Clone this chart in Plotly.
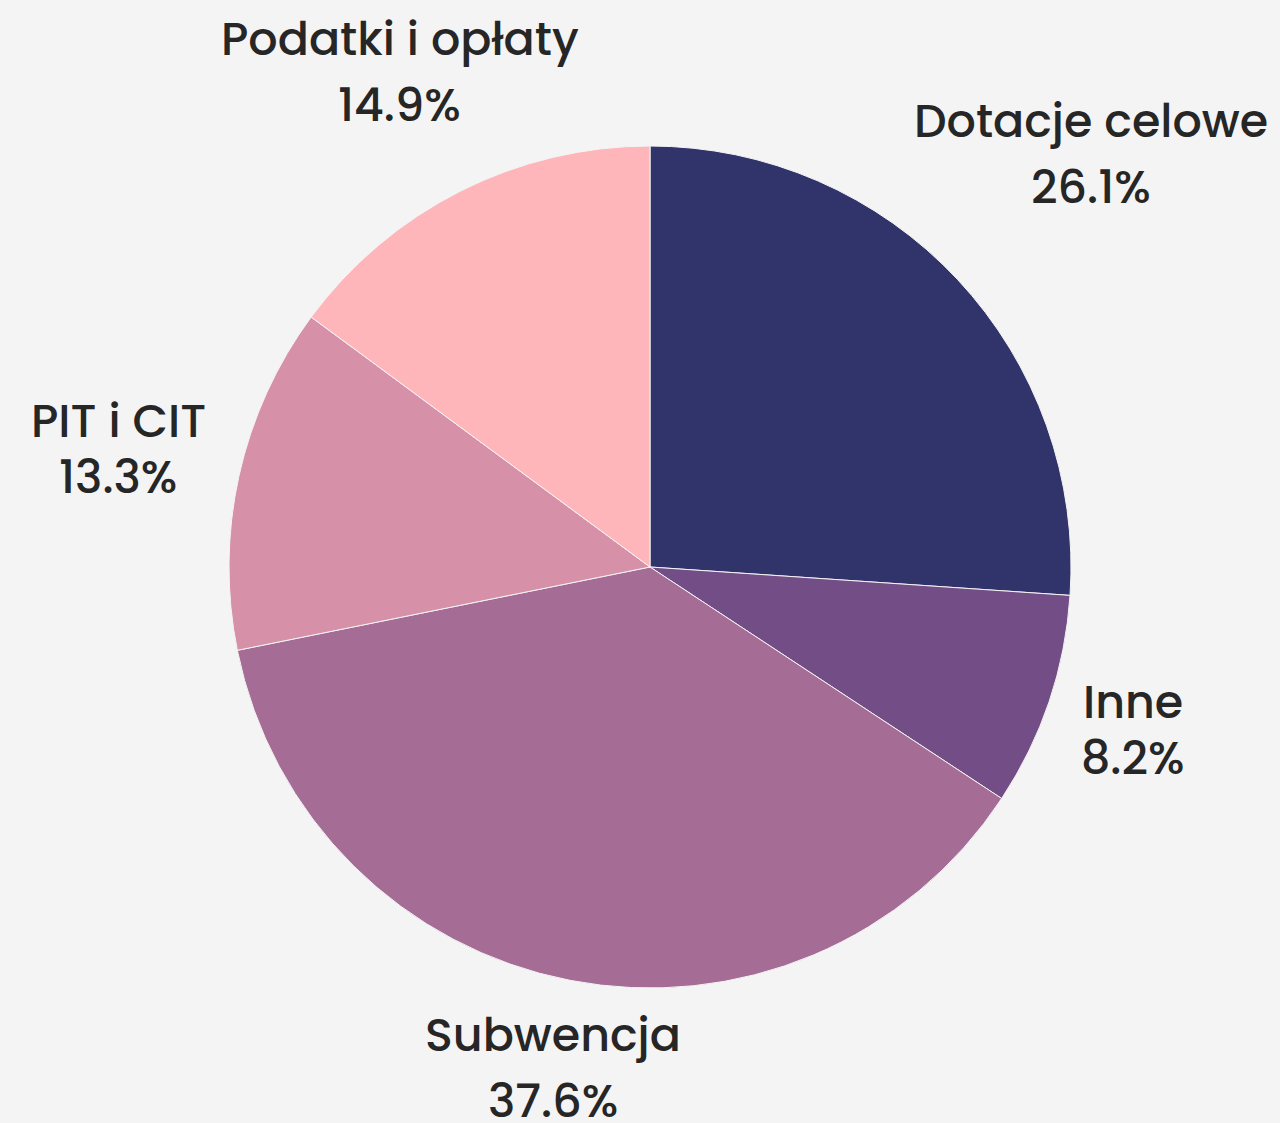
import math
import plotly.graph_objects as go

labels = ["Dotacje celowe", "Inne", "Subwencja", "PIT i CIT", "Podatki i opłaty"]
values = [26.1, 8.2, 37.6, 13.3, 14.9]
colors = ["#30346b", "#734d86", "#a56c96", "#d690a8", "#ffb6bb"]

# layout: radial distance of each label block (in pie radii)
label_dist = [1.435, 1.211, 1.211, 1.294, 1.318]

W, H = 1280, 1123
ML, MR, MT, MB = 200, 180, 146, 135
pw, ph = W - ML - MR, H - MT - MB
cx, cy = ML + pw / 2, MT + ph / 2
R = min(pw, ph) / 2

FONT = "Poppins, Inter, 'Open Sans', sans-serif"
FS = 46
TXT = "#262626"

fig = go.Figure(go.Pie(
    labels=labels,
    values=values,
    sort=False,
    direction="clockwise",
    rotation=0,
    marker=dict(colors=colors, line=dict(color="#f4f4f4", width=1)),
    textinfo="none",
    showlegend=False,
    hoverinfo="skip",
))

total = sum(values)
cum = 0.0
annotations = []
for lab, v, f in zip(labels, values, label_dist):
    mid = (cum + v / 2) / total * 2 * math.pi
    cum += v
    ux, uy = math.sin(mid), -math.cos(mid)
    px, py = cx + f * R * ux, cy + f * R * uy
    gap = 66 if abs(uy) > 0.5 else 56
    for text, dy in ((lab, -gap / 2), (f"{v / total * 100:.1f}%", gap / 2)):
        annotations.append(dict(
            x=(px - ML) / pw, y=(MT + ph - (py + dy)) / ph,
            xref="paper", yref="paper", xanchor="center", yanchor="middle",
            text=text, showarrow=False,
            font=dict(family=FONT, size=FS, color=TXT, weight=500),
        ))

fig.update_layout(
    width=W, height=H,
    paper_bgcolor="#f4f4f4",
    plot_bgcolor="#f4f4f4",
    margin=dict(l=ML, r=MR, t=MT, b=MB, autoexpand=False),
    annotations=annotations,
)

fig.write_html("out.html", config={"displayModeBar": False},
               post_script="document.body.style.margin='0';")
